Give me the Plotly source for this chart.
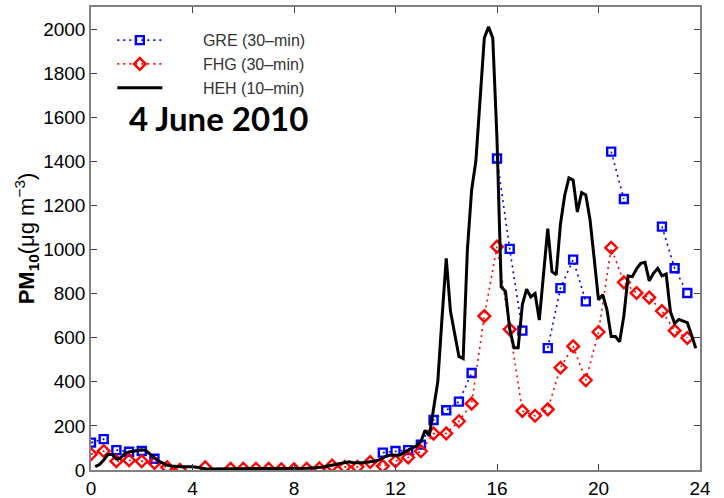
import plotly.graph_objects as go

# 30-min stations (hours of day)
half_hours = [i * 0.5 for i in range(48)]

gre_values = [124, 140, 90, 83, 86, 51, None, None, None, None,
              None, None, None, None, None, None, None, None, None, None,
              None, None, None, 79, 86, 90, 115, 227, 271, 310,
              440, None, 1413, 1003, 632, None, 553, 825, 954, 765,
              None, 1444, 1229, None, None, 1104, 915, 803]

fhg_values = [72, 86, 40, 44, 40, 32, 12, 1, None, 12,
              None, 6, 6, 6, 6, 3, 3, 6, 8, 20,
              14, 14, 36, 18, 40, 57, 85, 165, 166, 221,
              301, 698, 1013, 638, 268, 246, 275, 464, 561, 407,
              626, 1008, 851, 803, 782, 721, 632, 599]

# 10-min station, starting at 00:10
heh_values = [15, 25, 45, 70, 70, 50,
              55, 75, 82, 85, 90, 92,
              88, 70, 55, 40, 30, 22,
              18, 15, 15, 15, 16, 15,
              12, 8, 6, 5, 5, 5,
              5, 6, 6, 6, 5, 6,
              6, 6, 7, 6, 6, 6,
              6, 6, 7, 7, 7, 7,
              7, 8, 8, 9, 10, 12,
              14, 18, 22, 25, 30, 35,
              37, 33, 32, 33, 35, 36,
              40, 45, 55, 65, 68, 66,
              68, 80, 90, 100, 110, 130,
              180, 155, 280, 400, 690, 960,
              720, 610, 515, 505, 1000, 1270,
              1400, 1680, 1960, 2010, 1960, 1500,
              830, 810, 640, 555, 555, 750,
              820, 785, 800, 680, 900, 1095,
              900, 885, 1115, 1245, 1325, 1315,
              1170, 1258, 1247, 1135, 955, 772,
              795, 727, 605, 605, 582, 700,
              880, 877, 912, 937, 942, 858,
              892, 915, 881, 889, 718, 665,
              683, 677, 668, 612, 552]
heh_hours = [(k + 1) / 6 for k in range(len(heh_values))]

x_ticks = [0, 4, 8, 12, 16, 20, 24]
y_ticks = [0, 200, 400, 600, 800, 1000, 1200, 1400, 1600, 1800, 2000]

NB = "\u00a0" * 8

fig = go.Figure()
fig.add_trace(go.Scatter(
    x=half_hours, y=gre_values, mode="lines+markers", name=NB + "GRE (30\u2013min)",
    line=dict(color="#0000ff", dash="2px,4px", width=1.6),
    marker=dict(symbol="square-open", size=8, color="#0000ff", line=dict(width=2.4)),
    connectgaps=False))
fig.add_trace(go.Scatter(
    x=half_hours, y=fhg_values, mode="lines+markers", name=NB + "FHG (30\u2013min)",
    line=dict(color="#ff0000", dash="2px,4px", width=1.6),
    marker=dict(symbol="diamond-open", size=9, color="#ff0000", line=dict(width=2.4)),
    connectgaps=False))
fig.add_trace(go.Scatter(
    x=heh_hours, y=heh_values, mode="lines", name=NB + "HEH (10\u2013min)",
    line=dict(color="black", width=3)))

fig.add_annotation(text="<b>4 June 2010</b>", xref="paper", yref="paper",
                   x=0.059, y=0.76, xanchor="left", yanchor="middle", showarrow=False,
                   font=dict(family="Lato", size=33, color="black"))

axis_common = dict(showgrid=False, zeroline=False, showline=True, linecolor="#808080",
                   linewidth=1.5, mirror="ticks", ticks="inside", ticklen=6,
                   tickcolor="#404040", tickwidth=1, automargin=False,
                   tickfont=dict(family="Liberation Sans, Arial", size=19, color="black"))

fig.update_xaxes(range=[0, 24], tickvals=x_ticks, **axis_common)
fig.update_yaxes(range=[0, 2100], tickvals=y_ticks,
                 title=dict(text="<b>PM<sub>10</sub></b>(\u03bcg m<sup>\u22123</sup>)",
                            font=dict(family="Liberation Sans, Arial", size=22, color="black"),
                            standoff=2),
                 **axis_common)

fig.update_layout(
    width=724, height=498,
    margin=dict(l=91, r=24, t=7, b=28),
    plot_bgcolor="white", paper_bgcolor="white",
    showlegend=True,
    legend=dict(x=0.035, y=0.965, xanchor="left", yanchor="top",
                bgcolor="rgba(0,0,0,0)", itemwidth=45, tracegroupgap=0,
                font=dict(family="Liberation Sans, Arial", size=16, color="#333333")),
)

fig.write_html("out.html")
